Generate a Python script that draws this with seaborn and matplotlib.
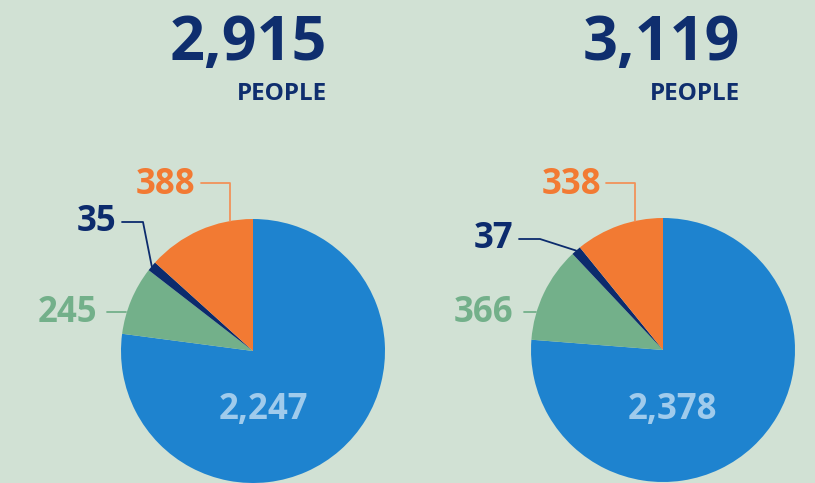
import numpy as np
import matplotlib
matplotlib.use("Agg")
import matplotlib.pyplot as plt
import seaborn as sns

# ---- data ----
totals = [2915, 3119]
categories = ["Main", "Green", "Navy", "Orange"]
pie_left = [2247, 245, 35, 388]
pie_right = [2378, 366, 37, 338]
total_labels = ["2,915", "3,119"]
value_labels_left = ["2,247", "245", "35", "388"]
value_labels_right = ["2,378", "366", "37", "338"]

BG = "#d1e1d4"
palette = sns.color_palette(["#1e83cf", "#73b08a", "#0c2b6d", "#f27a33"])
text_cols = ["#a0cbec", "#73b08a", "#0c2b6d", "#f27a33"]
line_cols = [None, "#73b08a", "#0c2b6d", "#f2925a"]
NAVY = "#0f2e6e"

sns.set_theme(style="white")
plt.rcParams["font.family"] = ["Open Sans", "DejaVu Sans"]

W, H = 815, 483
fig = plt.figure(figsize=(8.15, 4.83), dpi=100, facecolor=BG)
ax = fig.add_axes([0, 0, 1, 1])
ax.set_facecolor(BG)

def Y(y):
    return H - y

R = 132
layouts = [
    dict(cx=253, cy=351, title_x=327, vals=pie_left, labs=value_labels_left,
         total=total_labels[0],
         main=(263, 410),
         green=dict(txt=(97, 313), line=(107, 312)),
         navy=dict(txt=(116, 222), h=(122, 143, 222)),
         orange=dict(txt=(195, 185), h=(201, 230, 183))),
    dict(cx=663, cy=350, title_x=740, vals=pie_right, labs=value_labels_right,
         total=total_labels[1],
         main=(672, 410),
         green=dict(txt=(513, 313), line=(524, 312)),
         navy=dict(txt=(513, 239), h=(519, 540, 239)),
         orange=dict(txt=(601, 185), h=(606, 635, 183))),
]

LBL = 25

for L in layouts:
    cx, cy = L["cx"], L["cy"]
    vals = L["vals"]
    wedges, _ = ax.pie(vals, colors=palette, startangle=90, counterclock=False,
                       center=(cx, Y(cy)), radius=R, frame=True,
                       wedgeprops=dict(linewidth=0))
    t1 = [w.theta1 for w in wedges]
    t2 = [w.theta2 for w in wedges]

    # titles
    ax.text(L["title_x"], Y(60), L["total"], ha="right", va="baseline",
            fontsize=44, fontweight="bold", color=NAVY)
    ax.text(L["title_x"], Y(100), "PEOPLE", ha="right", va="baseline",
            fontsize=17.5, fontweight="bold", color=NAVY)

    # main label
    ax.text(L["main"][0], Y(L["main"][1]), L["labs"][0], ha="center", va="center",
            fontsize=LBL, fontweight="bold", color=text_cols[0])

    # green label with short horizontal leader to pie edge
    g = L["green"]
    ax.text(g["txt"][0], Y(g["txt"][1]), L["labs"][1], ha="right", va="center",
            fontsize=LBL, fontweight="bold", color=text_cols[1])
    gy = g["line"][1]
    gx_edge = cx - np.sqrt(R**2 - (gy - cy)**2)
    ax.plot([g["line"][0], gx_edge - 1], [Y(gy), Y(gy)], color=line_cols[1], lw=1.3)

    # navy label: horizontal then diagonal to wedge middle on the edge
    n = L["navy"]
    ax.text(n["txt"][0], Y(n["txt"][1]), L["labs"][2], ha="right", va="center",
            fontsize=LBL, fontweight="bold", color=text_cols[2])
    mid = np.deg2rad((t1[2] + t2[2]) / 2)
    ex, ey = cx + R * np.cos(mid), Y(cy) + R * np.sin(mid)
    x0, x1, hy = n["h"]
    ax.plot([x0, x1, ex], [Y(hy), Y(hy), ey], color=line_cols[2], lw=1.3)

    # orange label: horizontal then vertical down to pie edge
    o = L["orange"]
    ax.text(o["txt"][0], Y(o["txt"][1]), L["labs"][3], ha="right", va="center",
            fontsize=LBL, fontweight="bold", color=text_cols[3])
    x0, x1, hy = o["h"]
    vy = Y(cy) + np.sqrt(R**2 - (x1 - cx)**2)
    ax.plot([x0, x1, x1], [Y(hy), Y(hy), vy], color=line_cols[3], lw=1.3)

ax.set_xlim(0, W)
ax.set_ylim(0, H)
ax.set_aspect("equal")
ax.axis("off")
fig.savefig("out.png", dpi=100, facecolor=BG)
